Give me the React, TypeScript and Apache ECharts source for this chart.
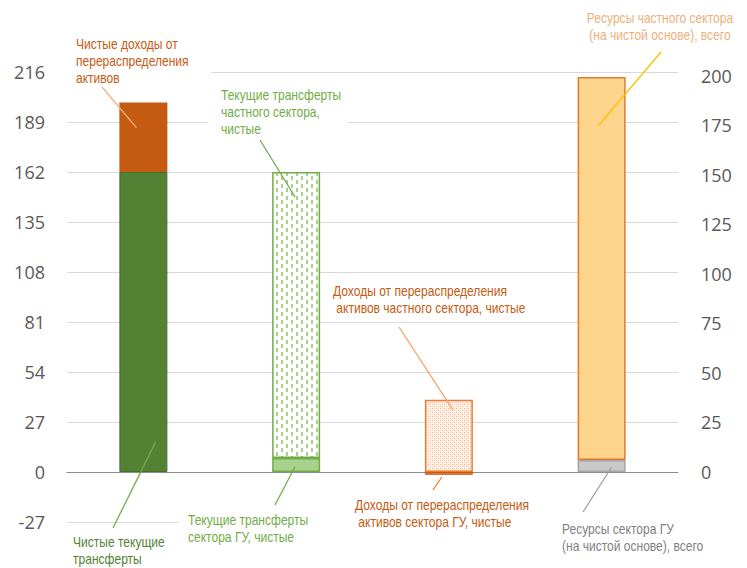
import React, { useEffect, useRef } from 'react';
import * as echarts from 'echarts';

const categories = ['Чистые текущие трансферты', 'Текущие трансферты', 'Доходы от перераспределения активов', 'Ресурсы'];
const netTransfers = [162, '-', '-', '-'];
const netAssetIncome = [37.5, '-', '-', '-'];
const guTransfers = ['-', 7.5, '-', '-'];
const privateTransfers = ['-', 154.5, '-', '-'];
const guAssetIncome = ['-', '-', -1.5, '-'];
const privateAssetIncome = ['-', '-', 39, '-'];
const guResources = ['-', '-', '-', 6];
const privateResources = ['-', '-', '-', 193.5];
const leftMin = -27;
const leftMax = 216;
const leftStep = 27;
const rightLabels = [0, 25, 50, 75, 100, 125, 150, 175, 200];

const FONT = '"Liberation Sans", Arial, sans-serif';

type Ann = {
  text: string; color: string; x: number; y: number; align: string;
  line: string; from: [number, number]; cat: number; val: number; axis: number; dx: number;
};

const annotations: Ann[] = [
  { text: 'Чистые доходы от\nперераспределения\nактивов', color: '#C55A11', x: 76, y: 35.5, align: 'left', line: '#F4B183', from: [102, 87], cat: 0, val: 186, axis: 0, dx: -7 },
  { text: 'Чистые текущие\nтрансферты', color: '#548235', x: 73, y: 533.5, align: 'left', line: '#70AD47', from: [113, 528], cat: 0, val: 16, axis: 0, dx: 12 },
  { text: 'Текущие трансферты\nчастного сектора,\nчистые', color: '#70AD47', x: 221, y: 86.5, align: 'left', line: '#70AD47', from: [260, 140], cat: 1, val: 148.5, axis: 0, dx: -1 },
  { text: 'Текущие трансферты\nсектора ГУ, чистые', color: '#70AD47', x: 188, y: 511.5, align: 'left', line: '#70AD47', from: [275, 505], cat: 1, val: 3, axis: 0, dx: -1 },
  { text: 'Доходы от перераспределения\n активов частного сектора, чистые', color: '#C55A11', x: 333, y: 282.5, align: 'left', line: '#F4A36B', from: [399, 327], cat: 2, val: 33.5, axis: 0, dx: 4 },
  { text: 'Доходы от перераспределения\n активов сектора ГУ, чистые', color: '#C55A11', x: 355, y: 496.5, align: 'left', line: '#ED7D31', from: [433, 490], cat: 2, val: -2.7, axis: 0, dx: -7 },
  { text: 'Ресурсы частного сектора\n(на чистой основе), всего', color: '#EDB07A', x: 660, y: 9.5, align: 'center', line: '#FFC000', from: [661, 52], cat: 3, val: 175, axis: 1, dx: -3 },
  { text: 'Ресурсы сектора ГУ\n(на чистой основе), всего', color: '#7F7F7F', x: 562, y: 520.5, align: 'left', line: '#A5A5A5', from: [583, 512], cat: 3, val: 2.5, axis: 1, dx: 10 },
];

const maskRects = [
  [67, 30, 144, 62],
  [208, 84, 140, 54],
  [178, 512, 172, 40],
  [350, 495, 205, 40],
  [555, 514, 140, 46],
];

function makeGreenPattern() {
  const c = document.createElement('canvas');
  c.width = 10; c.height = 8;
  const ctx = c.getContext('2d')!;
  ctx.fillStyle = '#ffffff';
  ctx.fillRect(0, 0, 10, 8);
  ctx.fillStyle = '#A9D18E';
  ctx.fillRect(1, 0, 2, 4);
  ctx.fillRect(6, 4, 2, 4);
  return c;
}

function makeOrangePattern() {
  const c = document.createElement('canvas');
  c.width = 4; c.height = 4;
  const ctx = c.getContext('2d')!;
  ctx.fillStyle = '#FFF3EA';
  ctx.fillRect(0, 0, 4, 4);
  ctx.fillStyle = '#F6B48A';
  ctx.fillRect(0, 0, 1, 1);
  ctx.fillRect(2, 2, 1, 1);
  ctx.fillStyle = '#FAD3B8';
  ctx.fillRect(2, 0, 1, 1);
  ctx.fillRect(0, 2, 1, 1);
  return c;
}

export default function App() {
  const ref = useRef<HTMLDivElement>(null);
  useEffect(() => {
    document.body.style.margin = '0';
    if (!ref.current) return;
    const chart = echarts.init(ref.current, null, { renderer: 'svg' });
    const gp = makeGreenPattern();
    const op = makeOrangePattern();
    const greenPattern: any = { image: gp, repeat: 'repeat', imageWidth: gp.width, imageHeight: gp.height };
    const orangePattern: any = { image: op, repeat: 'repeat', imageWidth: op.width, imageHeight: op.height };

    const bar = (name: string, data: any[], stack: string, yAxisIndex: number, itemStyle: any) => ({
      type: 'bar', name, data, stack, yAxisIndex, barWidth: 48, barGap: '-100%', itemStyle,
    });

    chart.setOption({
      animation: false,
      backgroundColor: '#ffffff',
      grid: { left: 67, right: 69, top: 72, bottom: 46 },
      xAxis: {
        type: 'category', data: categories,
        axisLabel: { show: false }, axisTick: { show: false },
        axisLine: { lineStyle: { color: '#8C8C8C', width: 1 } },
      },
      yAxis: [
        {
          type: 'value', min: leftMin, max: leftMax, interval: leftStep,
          axisLine: { show: false }, axisTick: { show: false },
          axisLabel: { color: '#595959', fontSize: 18, fontFamily: '"Open Sans", sans-serif', margin: 22 },
          splitLine: { lineStyle: { color: '#D9D9D9', width: 1 } },
        },
        {
          type: 'value', min: -25.25, max: 202,
          axisLine: { show: false }, axisTick: { show: false },
          axisLabel: { color: '#595959', fontSize: 18, fontFamily: '"Open Sans", sans-serif', margin: 23, customValues: rightLabels },
          splitLine: { show: false },
        },
      ],
      series: [
        bar('Чистые текущие трансферты', netTransfers, 'a', 0, { color: '#548235', borderColor: '#46702B', borderWidth: 1 }),
        bar('Чистые доходы от перераспределения активов', netAssetIncome, 'a', 0, { color: '#C55A11' }),
        bar('Текущие трансферты сектора ГУ, чистые', guTransfers, 'a', 0, { color: '#A9D18E', borderColor: '#70AD47', borderWidth: 1.5 }),
        bar('Текущие трансферты частного сектора, чистые', privateTransfers, 'a', 0, { color: greenPattern, borderColor: '#70AD47', borderWidth: 1.5 }),
        bar('Доходы от перераспределения активов сектора ГУ, чистые', guAssetIncome, 'a', 0, { color: '#ED7D31', borderColor: '#C55A11', borderWidth: 1 }),
        bar('Доходы от перераспределения активов частного сектора, чистые', privateAssetIncome, 'a', 0, { color: orangePattern, borderColor: '#ED7D31', borderWidth: 1.5 }),
        bar('Ресурсы сектора ГУ (на чистой основе), всего', guResources, 'b', 1, { color: '#C9C9C9', borderColor: '#A5A5A5', borderWidth: 1.5 }),
        bar('Ресурсы частного сектора (на чистой основе), всего', privateResources, 'b', 1, { color: '#FFD48C', borderColor: '#E07B2E', borderWidth: 1.5 }),
      ],
    });

    const graphics: any[] = [];
    maskRects.forEach(([x, y, w, h]) => {
      graphics.push({ type: 'rect', z: 50, shape: { x, y, width: w, height: h }, style: { fill: '#ffffff' }, silent: true });
    });
    annotations.forEach((a) => {
      const p = chart.convertToPixel({ xAxisIndex: 0, yAxisIndex: a.axis } as any, [a.cat, a.val]) as number[];
      graphics.push({
        type: 'line', z: 60, silent: true,
        shape: { x1: a.from[0], y1: a.from[1], x2: p[0] + a.dx, y2: p[1] },
        style: { stroke: a.line, lineWidth: 1.3 },
      });
      graphics.push({
        type: 'text', z: 70, silent: true, x: a.x, y: a.y, scaleX: 0.86,
        style: {
          text: a.text, fill: a.color, fontSize: 14, fontFamily: FONT,
          align: a.align, verticalAlign: 'top', lineHeight: 17,
        },
      });
    });
    chart.setOption({ graphic: graphics });

    return () => chart.dispose();
  }, []);
  return <div ref={ref} style={{ width: 747, height: 568 }} />;
}
